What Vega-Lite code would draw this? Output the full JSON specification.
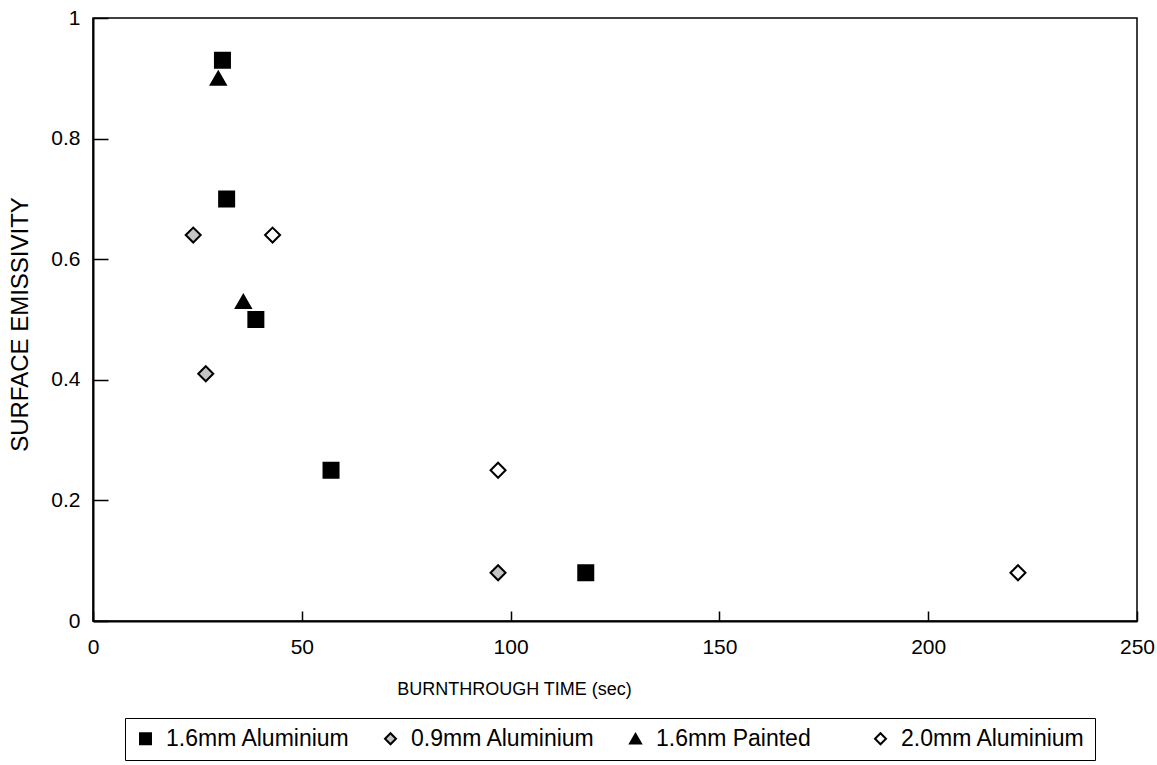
{
  "$schema": "https://vega.github.io/schema/vega-lite/v6.json",
  "autosize": {"type": "none"},
  "width": 1044,
  "height": 603,
  "padding": {"left": 93, "top": 18, "right": 20, "bottom": 144},
  "background": "white",
  "config": {
    "font": "Liberation Sans",
    "view": {"stroke": "black", "strokeWidth": 1.5},
    "axis": {"domainColor": "black", "domainWidth": 2, "ticks": false, "labelColor": "black", "titleColor": "black", "labelFontSize": 21, "titleFontSize": 18, "titleFontWeight": "normal", "labelFont": "Liberation Sans", "titleFont": "Liberation Sans", "gridColor": "black", "gridOpacity": 1, "gridWidth": 1.5, "labelFlush": false},
    "legend": {"labelFontSize": 23, "labelColor": "black", "symbolSize": 120, "symbolStrokeWidth": 2, "strokeColor": "black", "padding": 9, "labelLimit": 300, "labelOffset": 9}
  },
  "data": {
    "values": [
      {"time": 31, "emissivity": 0.93, "series": "1.6mm Aluminium"},
      {"time": 32, "emissivity": 0.70, "series": "1.6mm Aluminium"},
      {"time": 39, "emissivity": 0.50, "series": "1.6mm Aluminium"},
      {"time": 57, "emissivity": 0.25, "series": "1.6mm Aluminium"},
      {"time": 118, "emissivity": 0.08, "series": "1.6mm Aluminium"},
      {"time": 24, "emissivity": 0.64, "series": "0.9mm Aluminium"},
      {"time": 27, "emissivity": 0.41, "series": "0.9mm Aluminium"},
      {"time": 97, "emissivity": 0.08, "series": "0.9mm Aluminium"},
      {"time": 30, "emissivity": 0.90, "series": "1.6mm Painted"},
      {"time": 36, "emissivity": 0.53, "series": "1.6mm Painted"},
      {"time": 43, "emissivity": 0.64, "series": "2.0mm Aluminium"},
      {"time": 97, "emissivity": 0.25, "series": "2.0mm Aluminium"},
      {"time": 221.5, "emissivity": 0.08, "series": "2.0mm Aluminium"}
    ]
  },
  "mark": {"type": "point", "stroke": "black", "strokeWidth": 2, "opacity": 1, "size": 225},
  "encoding": {
    "x": {
      "field": "time", "type": "quantitative",
      "scale": {"domain": [0, 250], "nice": false, "zero": true},
      "axis": {"values": [0, 50, 100, 150, 200, 250], "title": "BURNTHROUGH TIME (sec)", "labelPadding": 15, "grid": true, "gridDash": [0, 593, 20, 100], "titleX": 421, "titleY": 68, "titleBaseline": "middle", "titleAnchor": null}
    },
    "y": {
      "field": "emissivity", "type": "quantitative",
      "scale": {"domain": [0, 1], "nice": false},
      "axis": {"values": [0, 0.2, 0.4, 0.6, 0.8, 1], "format": "~g", "title": "SURFACE EMISSIVITY", "titleFontSize": 24, "labelPadding": 13, "grid": true, "gridDash": [15, 2000], "titleX": -73, "titleY": 306, "titleBaseline": "middle"}
    },
    "shape": {
      "field": "series", "type": "nominal",
      "scale": {"domain": ["1.6mm Aluminium", "0.9mm Aluminium", "1.6mm Painted", "2.0mm Aluminium"], "range": ["square", "diamond", "triangle-up", "diamond"]},
      "legend": {"title": null, "orient": "none", "legendX": 32, "legendY": 700, "direction": "horizontal", "columns": 4, "gridAlign": "all", "columnPadding": 28}
    },
    "fill": {
      "field": "series", "type": "nominal",
      "scale": {"domain": ["1.6mm Aluminium", "0.9mm Aluminium", "1.6mm Painted", "2.0mm Aluminium"], "range": ["black", "#c4c4c4", "black", "white"]},
      "legend": {"title": null, "orient": "none", "legendX": 32, "legendY": 700, "direction": "horizontal", "columns": 4, "gridAlign": "all", "columnPadding": 28}
    }
  }
}
